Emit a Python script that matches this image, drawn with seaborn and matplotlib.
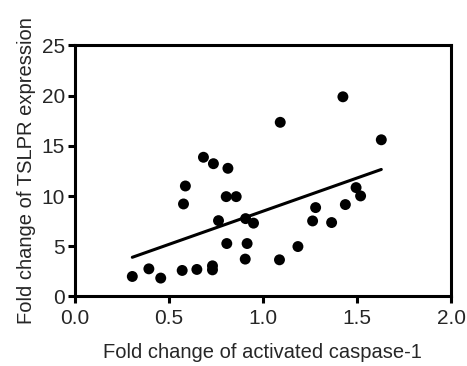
import matplotlib
matplotlib.use("Agg")
import matplotlib.pyplot as plt
import numpy as np
import pandas as pd
import seaborn as sns

# activated caspase-1 fold change (x) vs TSLPR expression fold change (y)
caspase = [0.306, 0.394, 0.457, 0.571, 0.649, 0.732, 0.732, 0.578, 0.588,
           0.684, 0.737, 0.814, 0.805, 0.858, 0.764, 0.808, 0.908, 0.950,
           0.916, 0.906, 1.092, 1.425, 1.629, 1.495, 1.519, 1.438, 1.280,
           1.264, 1.365, 1.186, 1.088]
tslpr = [1.99, 2.75, 1.83, 2.59, 2.69, 3.05, 2.65, 9.21, 11.0,
         13.86, 13.22, 12.76, 9.94, 9.94, 7.55, 5.27, 7.75, 7.30,
         5.27, 3.72, 17.34, 19.88, 15.6, 10.84, 10.01, 9.15, 8.85,
         7.52, 7.36, 4.97, 3.65]

x_ticks = [0.0, 0.5, 1.0, 1.5, 2.0]
y_ticks = [0, 5, 10, 15, 20, 25]

df = pd.DataFrame({"caspase": caspase, "tslpr": tslpr})

sns.set_style("ticks")
plt.rcParams["font.family"] = ["Liberation Sans", "DejaVu Sans"]

fig = plt.figure(figsize=(4.67, 3.66), dpi=100)
ax = fig.add_axes([0.16, 0.19, 0.806, 0.686])

sns.regplot(data=df, x="caspase", y="tslpr", ax=ax, ci=None, color="black",
            scatter_kws={"s": 62, "edgecolor": "none", "alpha": 1, "zorder": 3},
            line_kws={"linewidth": 2.2})

ax.set_xlim(0, 2.0)
ax.set_ylim(0, 25)
ax.set_xticks(x_ticks)
ax.set_xticklabels(["%.1f" % t for t in x_ticks])
ax.set_yticks(y_ticks)
ax.set_xlabel("Fold change of activated caspase-1", fontsize=14.5, labelpad=11)
ax.set_ylabel("Fold change of TSLPR expression", fontsize=14.5, labelpad=4)
ax.tick_params(axis="both", labelsize=15, width=2.2, length=5,
               direction="out", color="black", pad=2)
ax.tick_params(axis="x", pad=4)
for side in ["left", "bottom", "top", "right"]:
    ax.spines[side].set_visible(True)
    ax.spines[side].set_linewidth(2.2)
    ax.spines[side].set_color("black")

fig.savefig("out.png", dpi=100)
plt.close()
